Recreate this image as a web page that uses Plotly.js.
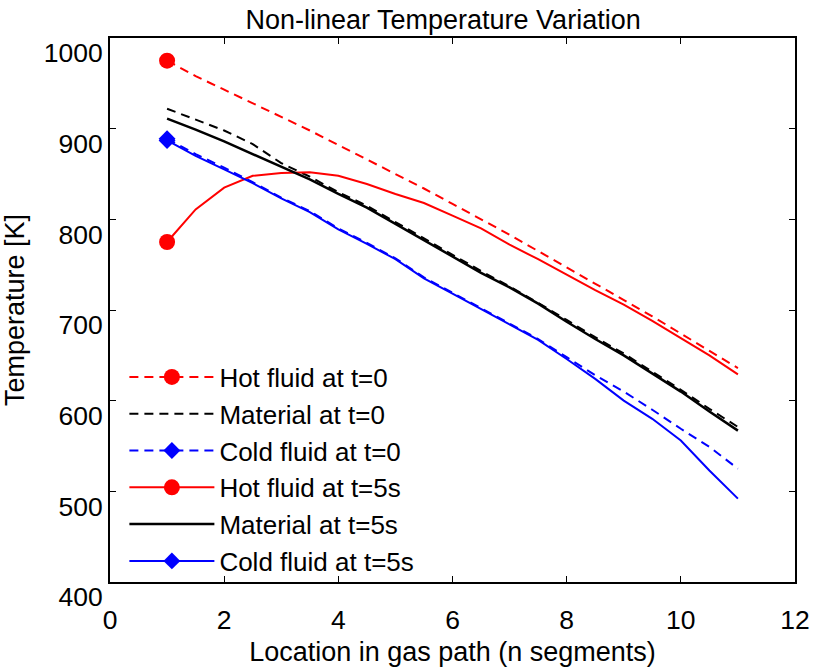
<!DOCTYPE html>
<html>
<head>
<meta charset="utf-8">
<script src="https://cdn.plot.ly/plotly-3.0.1.min.js"></script>
<style>html,body{margin:0;padding:0;background:#fff}#chart{width:813px;height:667px}</style>
</head>
<body>
<div id="chart"></div>
<script>
// Location in gas path (segments)
var xSeg = [1, 1.5, 2, 2.5, 3, 3.5, 4, 4.5, 5, 5.5, 6, 6.5, 7, 7.5, 8, 8.5, 9, 9.5, 10, 10.5, 11];

// Temperatures [K]
var hotT0  = [975, 958, 943, 928, 913, 898, 882, 866, 850, 834, 817, 800, 783, 765, 747, 729, 711, 693, 674, 655, 636];
var matT0  = [922, 910, 898, 883, 862, 847, 830, 815, 797, 779, 761, 743, 726, 708, 689, 670, 652, 632, 612, 591, 571];
var coldT0 = [889, 872, 857, 841, 824, 809, 790, 774, 757, 736, 719, 702, 685, 668, 648, 628, 610, 590, 569, 549, 525];
var hotT5  = [775, 811, 835, 848, 851, 852, 848, 839, 828, 818, 804, 790, 772, 756, 739, 722, 706, 688, 669, 650, 629];
var matT5  = [911, 899, 886, 872, 858, 844, 828, 813, 795, 777, 759, 741, 725, 707, 687, 668, 650, 630, 610, 588, 567];
var coldT5 = [887, 870, 855, 840, 823, 808, 789, 773, 756, 735, 718, 701, 684, 667, 646, 624, 600, 580, 556, 523, 492];

var names = ['Hot fluid at t=0', 'Material at t=0', 'Cold fluid at t=0',
             'Hot fluid at t=5s', 'Material at t=5s', 'Cold fluid at t=5s'];
var xTicks = [0, 2, 4, 6, 8, 10, 12];
var yTicks = [400, 500, 600, 700, 800, 900, 1000];

// marker only on the first point: colour array, transparent elsewhere
function firstColor(n, c) {
  var a = [];
  for (var i = 0; i < n; i++) a.push(i === 0 ? c : 'rgba(0,0,0,0)');
  return a;
}
var N = xSeg.length;
var DASH = '9px,6px';

var traces = [
  {x: xSeg, y: hotT0, name: names[0], mode: 'lines+markers',
   line: {color: '#ff0000', width: 2, dash: DASH},
   marker: {symbol: 'circle', color: firstColor(N, '#ff0000'), size: 16, opacity: 1, line: {width: 0}}},
  {x: xSeg, y: matT0, name: names[1], mode: 'lines',
   line: {color: '#000000', width: 2, dash: DASH}},
  {x: xSeg, y: coldT0, name: names[2], mode: 'lines+markers',
   line: {color: '#0000ff', width: 2, dash: DASH},
   marker: {symbol: 'diamond', color: firstColor(N, '#0000ff'), size: 13, opacity: 1, line: {width: 0}}},
  {x: xSeg, y: hotT5, name: names[3], mode: 'lines+markers',
   line: {color: '#ff0000', width: 2},
   marker: {symbol: 'circle', color: firstColor(N, '#ff0000'), size: 16, opacity: 1, line: {width: 0}}},
  {x: xSeg, y: matT5, name: names[4], mode: 'lines',
   line: {color: '#000000', width: 2.5}},
  {x: xSeg, y: coldT5, name: names[5], mode: 'lines+markers',
   line: {color: '#0000ff', width: 2},
   marker: {symbol: 'diamond', color: firstColor(N, '#0000ff'), size: 13, opacity: 1, line: {width: 0}}}
];

var FONT = 'Arial, "Liberation Sans", sans-serif';

var layout = {
  width: 813, height: 667,
  margin: {l: 110, r: 18, t: 38, b: 85},
  paper_bgcolor: '#ffffff', plot_bgcolor: '#ffffff',
  font: {family: FONT, size: 26, color: '#000'},
  title: {text: 'Non-linear Temperature Variation', font: {family: FONT, size: 27, color: '#000'},
          xref: 'container', yref: 'container', x: 0.545, xanchor: 'center', y: 0.97, yanchor: 'middle'},
  xaxis: {
    range: [0, 12], tickvals: xTicks, ticktext: xTicks.map(String),
    ticks: 'inside', ticklen: 6, tickwidth: 1, tickcolor: '#000',
    showline: true, linewidth: 2, linecolor: '#000', mirror: 'ticks',
    showgrid: false, zeroline: false,
    tickfont: {family: FONT, size: 26.5, color: '#000'},
    ticklabelstandoff: 13,
    title: {text: 'Location in gas path (n segments)', font: {family: FONT, size: 27, color: '#000'}, standoff: 10}
  },
  yaxis: {
    range: [400, 1000], tickvals: yTicks, ticktext: yTicks.map(String),
    ticks: 'inside', ticklen: 6, tickwidth: 1, tickcolor: '#000',
    showline: true, linewidth: 2, linecolor: '#000', mirror: 'ticks',
    showgrid: false, zeroline: false,
    tickfont: {family: FONT, size: 26.5, color: '#000'},
    ticklabelstandoff: 0, ticklabelshift: 15,
    title: {text: 'Temperature [K]', font: {family: FONT, size: 27, color: '#000'}, standoff: 13}
  },
  showlegend: true,
  legend: {
    x: 0.021, xanchor: 'left', xref: 'paper',
    y: 0.42, yanchor: 'top', yref: 'paper',
    bgcolor: 'rgba(0,0,0,0)', borderwidth: 0,
    itemwidth: 85, tracegroupgap: 0,
    font: {family: FONT, size: 26, color: '#000'}
  }
};

Plotly.newPlot('chart', traces, layout, {staticPlot: true, displayModeBar: false});
</script>
</body>
</html>
